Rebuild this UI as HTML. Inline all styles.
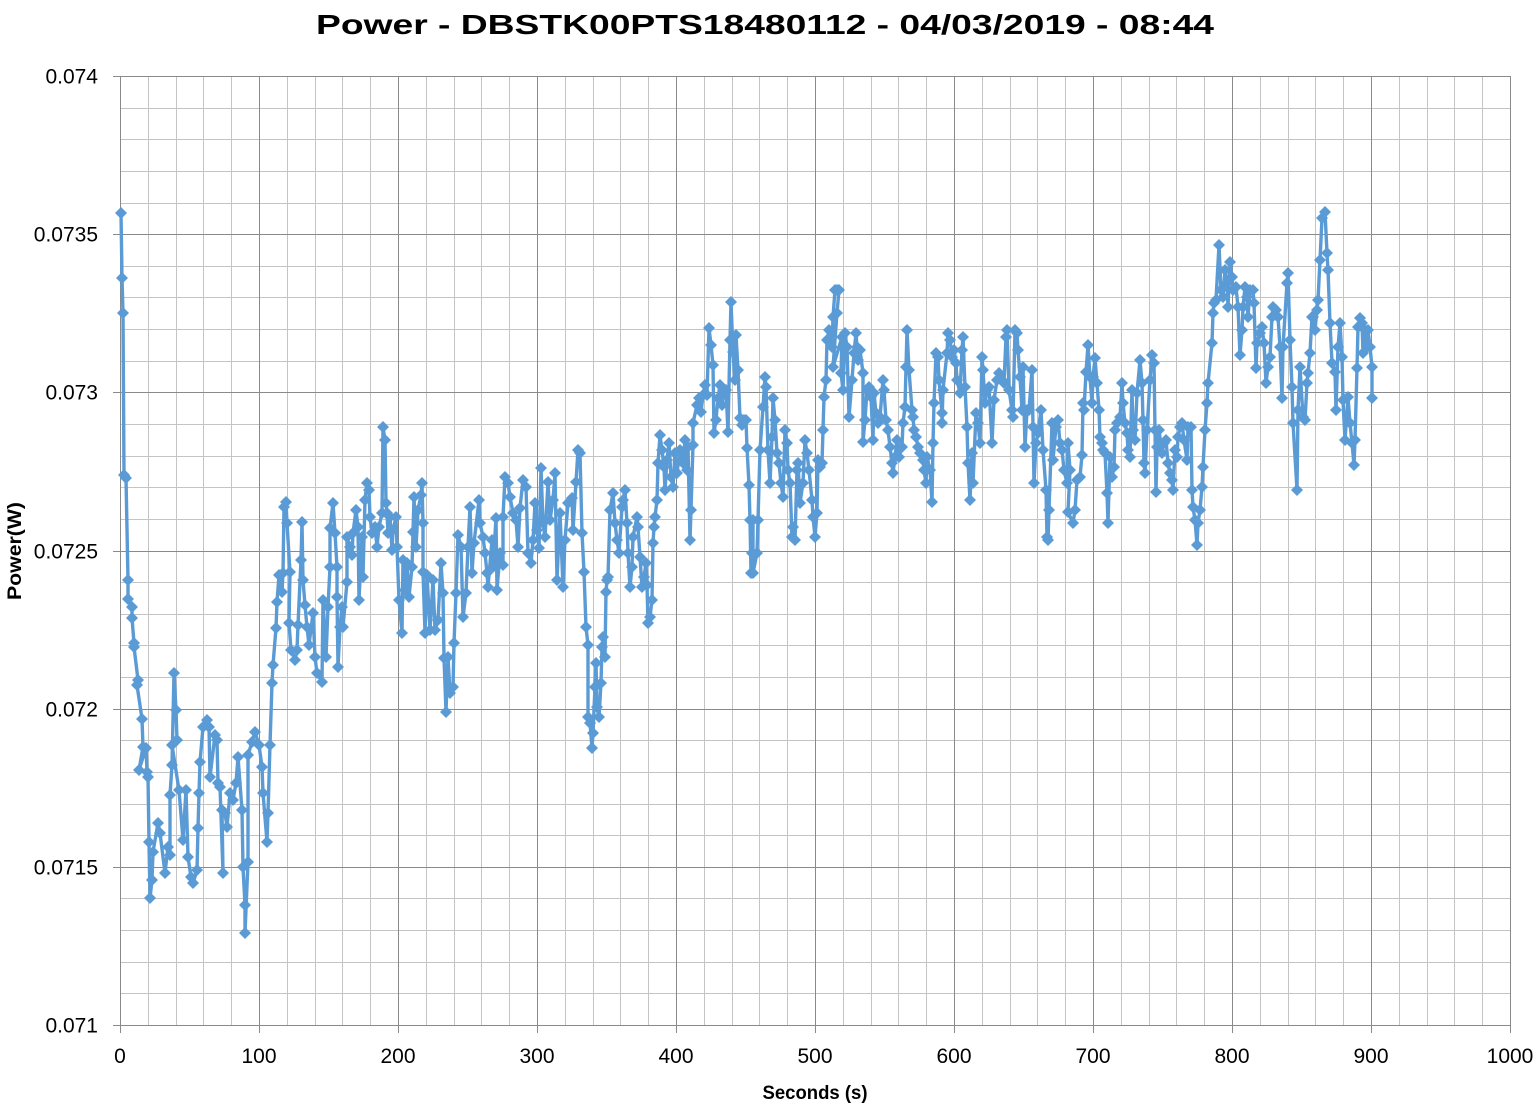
<!DOCTYPE html>
<html><head><meta charset="utf-8"><style>
html,body{margin:0;padding:0;background:#fff;}
svg{display:block;}
text{font-family:"Liberation Sans",Arial,sans-serif;fill:#000;}
</style></head><body>
<svg width="1538" height="1107" viewBox="0 0 1538 1107" xmlns="http://www.w3.org/2000/svg">
<defs>
<marker id="d" viewBox="-6 -6 12 12" markerWidth="12" markerHeight="12" markerUnits="userSpaceOnUse" refX="0" refY="0">
<path d="M0,-6 L6,0 L0,6 L-6,0Z" fill="#5B9BD5"/>
</marker>
</defs>
<rect width="1538" height="1107" fill="#fff"/>
<g shape-rendering="crispEdges" stroke-width="1">
<path stroke="#c4c4c4" fill="none" d="M148.5,76V1025M176.5,76V1025M203.5,76V1025M231.5,76V1025M287.5,76V1025M315.5,76V1025M342.5,76V1025M370.5,76V1025M426.5,76V1025M454.5,76V1025M481.5,76V1025M509.5,76V1025M565.5,76V1025M593.5,76V1025M620.5,76V1025M648.5,76V1025M704.5,76V1025M732.5,76V1025M759.5,76V1025M787.5,76V1025M843.5,76V1025M871.5,76V1025M898.5,76V1025M926.5,76V1025M982.5,76V1025M1010.5,76V1025M1037.5,76V1025M1065.5,76V1025M1121.5,76V1025M1149.5,76V1025M1176.5,76V1025M1204.5,76V1025M1260.5,76V1025M1288.5,76V1025M1315.5,76V1025M1343.5,76V1025M1399.5,76V1025M1427.5,76V1025M1454.5,76V1025M1482.5,76V1025
M120,108.5H1510M120,139.5H1510M120,171.5H1510M120,203.5H1510M120,266.5H1510M120,297.5H1510M120,329.5H1510M120,361.5H1510M120,424.5H1510M120,456.5H1510M120,487.5H1510M120,519.5H1510M120,582.5H1510M120,614.5H1510M120,645.5H1510M120,677.5H1510M120,740.5H1510M120,772.5H1510M120,804.5H1510M120,835.5H1510M120,898.5H1510M120,930.5H1510M120,962.5H1510M120,993.5H1510"/>
<path stroke="#8a8a8a" fill="none" d="M259.5,76V1033M398.5,76V1033M537.5,76V1033M676.5,76V1033M815.5,76V1033M954.5,76V1033M1093.5,76V1033M1232.5,76V1033M1371.5,76V1033M1510.5,76V1033M120.5,76V1033
M113,76.5H1510M113,234.5H1510M113,392.5H1510M113,551.5H1510M113,709.5H1510M113,867.5H1510M113,1025.5H1510"/>
</g>
<polyline fill="none" stroke="#5B9BD5" stroke-width="3.4" stroke-linejoin="round" stroke-linecap="round" marker-start="url(#d)" marker-mid="url(#d)" marker-end="url(#d)" points="121,213 122,278 123,313 124,475 126,478 128,580 128,599 132,607 132,618 134,643 134,647 138,680 137,685 142,719 143,747 139,770 146,748 147,772 148,777 149,842 150,898 152,880 153,852 158,823 160,833 165,873 168,847 170,855 170,795 172,765 174,673 176,710 177,740 172,745 179,790 183,840 186,790 188,857 191,877 193,883 197,870 198,828 199,793 200,762 203,727 207,720 209,727 210,777 215,735 217,740 218,783 220,787 223,873 222,810 225,813 227,827 230,793 233,800 236,783 238,757 242,810 243,867 245,905 245,933 248,862 248,755 252,742 255,732 259,745 262,767 263,793 267,842 268,813 270,745 272,683 273,665 276,628 277,602 279,575 282,592 283,573 284,507 286,502 287,523 290,572 289,623 291,650 295,660 297,650 298,625 301,560 302,522 303,580 305,605 307,627 309,645 313,613 315,657 317,673 322,682 323,600 326,657 328,607 330,567 330,528 333,503 335,533 337,567 337,597 338,667 340,627 342,607 343,627 347,582 347,537 350,547 352,555 353,533 356,510 358,527 359,600 362,537 363,577 365,500 367,483 369,490 370,517 372,533 375,527 377,547 379,527 382,513 383,427 385,440 386,503 387,513 388,533 390,517 392,550 393,530 396,517 397,547 399,600 402,633 403,560 405,590 407,563 409,597 412,567 413,532 414,497 416,547 418,510 421,495 422,483 423,523 423,572 425,633 427,575 430,630 433,580 435,630 438,620 441,563 443,593 444,658 446,712 448,657 450,693 453,687 454,643 456,593 458,535 461,547 463,617 466,593 468,547 470,507 472,573 474,543 479,500 480,523 483,537 485,553 487,573 488,587 492,540 493,567 496,518 497,590 500,553 503,565 503,517 505,477 508,483 510,497 513,513 516,520 518,547 520,508 523,480 526,487 528,553 531,563 533,540 535,503 537,530 539,548 541,468 543,523 545,537 548,482 550,520 553,500 555,473 557,580 560,513 563,587 565,540 568,503 572,498 573,530 576,482 578,450 580,453 582,533 584,572 586,627 588,645 588,717 590,723 592,748 593,733 595,687 596,663 597,707 599,717 601,683 602,647 603,637 605,657 606,592 607,580 608,577 610,510 613,493 615,523 617,540 619,553 622,507 623,500 625,490 627,523 628,553 630,587 632,567 633,537 637,517 638,527 640,557 642,587 644,577 646,563 647,585 648,623 650,617 652,600 653,543 654,527 655,517 657,500 658,463 660,435 662,450 664,467 665,490 667,460 669,443 671,477 673,487 675,453 677,473 680,450 683,463 685,440 687,470 688,447 690,540 691,510 693,445 693,423 697,405 699,398 701,412 703,395 705,385 707,395 709,328 711,345 713,365 714,433 716,420 718,398 720,385 722,405 724,393 726,390 728,432 730,340 731,302 733,352 735,380 736,335 738,370 740,418 742,425 744,420 746,420 747,448 749,485 750,520 751,573 752,553 753,520 753,573 757,553 758,520 760,450 763,407 765,377 766,387 768,450 770,483 772,437 773,398 775,420 777,453 779,463 781,483 783,497 785,430 787,443 788,470 790,483 792,537 793,527 795,540 797,470 798,463 800,503 803,483 805,440 807,453 809,470 812,500 813,517 815,537 817,513 818,460 820,467 822,463 823,430 824,397 826,380 827,340 829,330 832,347 833,317 835,290 837,290 839,290 837,313 833,367 842,337 841,373 843,390 845,333 847,347 849,417 852,380 854,353 856,333 857,347 858,360 860,350 863,373 863,442 865,420 867,390 869,387 871,397 873,440 874,393 876,413 878,423 880,417 883,380 884,390 886,420 888,430 890,447 892,463 893,473 895,457 897,440 899,457 902,447 903,423 905,407 906,367 907,330 909,370 912,410 913,417 914,430 916,437 918,447 920,453 923,460 924,470 926,483 927,457 930,470 932,502 933,443 934,403 936,353 938,357 939,380 942,413 942,423 943,390 947,353 948,333 950,340 952,357 954,350 956,363 957,380 960,393 962,350 963,337 965,387 967,427 968,463 970,500 972,453 973,483 976,413 978,423 980,443 982,357 983,370 985,403 987,390 989,387 992,443 994,400 997,380 999,373 1002,380 1004,383 1006,337 1007,330 1009,390 1012,410 1013,417 1015,330 1017,333 1018,350 1020,377 1022,410 1023,367 1025,447 1027,410 1029,410 1032,370 1033,427 1034,483 1036,443 1038,433 1041,410 1043,450 1046,490 1047,537 1048,540 1049,510 1052,423 1053,460 1056,427 1058,420 1060,443 1062,450 1064,470 1067,483 1068,443 1070,470 1068,512 1073,523 1075,510 1077,480 1080,477 1082,455 1083,403 1084,410 1086,372 1088,345 1090,377 1092,403 1093,377 1095,358 1097,383 1099,410 1100,437 1102,443 1103,450 1105,453 1107,493 1108,523 1110,457 1112,477 1114,467 1115,430 1117,423 1120,417 1122,383 1123,403 1125,423 1127,433 1128,450 1130,457 1132,390 1133,430 1135,440 1137,393 1140,360 1142,383 1143,420 1144,463 1145,473 1147,430 1150,380 1152,355 1154,363 1155,430 1156,492 1157,447 1159,430 1162,453 1164,443 1166,440 1168,463 1170,473 1172,480 1173,490 1175,450 1177,457 1178,437 1180,427 1182,423 1184,440 1187,460 1188,427 1191,427 1192,490 1193,507 1195,520 1197,545 1198,523 1200,510 1202,487 1203,467 1205,430 1207,403 1208,383 1212,343 1213,313 1214,303 1216,300 1219,245 1221,290 1223,297 1225,270 1227,283 1228,307 1230,262 1232,277 1233,290 1236,287 1238,307 1240,355 1242,330 1243,307 1245,287 1247,297 1248,317 1250,290 1253,290 1254,303 1256,368 1257,343 1260,333 1262,327 1264,343 1266,383 1268,367 1270,357 1272,317 1273,307 1276,310 1278,317 1280,347 1282,398 1283,347 1287,283 1288,273 1290,340 1292,387 1293,423 1297,490 1298,410 1300,367 1303,417 1305,420 1307,383 1308,373 1310,353 1312,317 1313,317 1315,330 1317,310 1318,300 1320,260 1322,218 1325,212 1327,253 1328,270 1330,323 1332,363 1335,372 1336,410 1338,347 1340,323 1342,357 1343,400 1345,440 1348,397 1350,423 1352,443 1354,465 1355,440 1357,368 1358,327 1360,318 1362,323 1363,353 1365,330 1367,347 1368,330 1370,347 1372,367 1372,398"/>
<text x="765" y="34" text-anchor="middle" font-size="28" font-weight="bold" textLength="898" lengthAdjust="spacingAndGlyphs">Power - DBSTK00PTS18480112 - 04/03/2019 - 08:44</text>
<g font-size="21" text-anchor="end">
<text x="98" y="83.5">0.074</text>
<text x="98" y="241.5">0.0735</text>
<text x="98" y="399.5">0.073</text>
<text x="98" y="558.5">0.0725</text>
<text x="98" y="716.5">0.072</text>
<text x="98" y="874.5">0.0715</text>
<text x="98" y="1032.5">0.071</text>
</g>
<g font-size="21" text-anchor="middle">
<text x="120" y="1063">0</text>
<text x="259" y="1063">100</text>
<text x="398" y="1063">200</text>
<text x="537" y="1063">300</text>
<text x="676" y="1063">400</text>
<text x="815" y="1063">500</text>
<text x="954" y="1063">600</text>
<text x="1093" y="1063">700</text>
<text x="1232" y="1063">800</text>
<text x="1371" y="1063">900</text>
<text x="1510" y="1063">1000</text>
</g>
<text transform="translate(21,551) rotate(-90)" text-anchor="middle" font-size="19" font-weight="bold" textLength="98" lengthAdjust="spacingAndGlyphs">Power(W)</text>
<text x="815" y="1099" text-anchor="middle" font-size="19" font-weight="bold" textLength="105" lengthAdjust="spacingAndGlyphs">Seconds (s)</text>
</svg>
</body></html>
